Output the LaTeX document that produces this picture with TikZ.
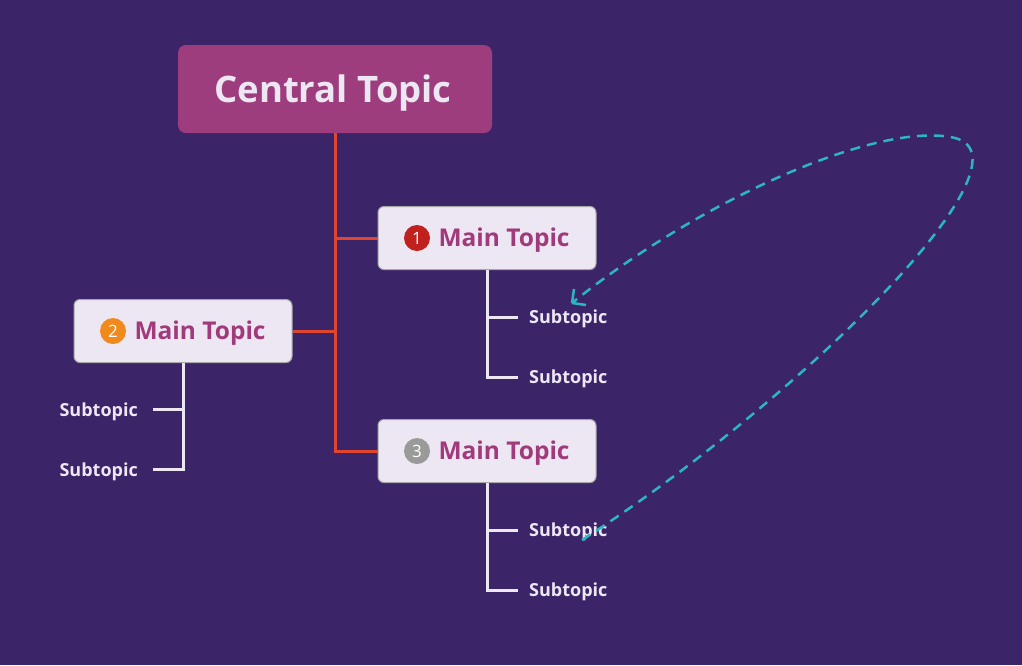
\documentclass[tikz,border=0pt]{standalone}
\usepackage{fontspec}
\setmainfont{Open Sans}
\usetikzlibrary{positioning}
\definecolor{bgpurple}{HTML}{3C2468}
\definecolor{central}{HTML}{9E3D7D}
\definecolor{mainfill}{HTML}{EDE6F3}
\definecolor{maintext}{HTML}{A03A7A}
\definecolor{trunk}{HTML}{E0452F}
\definecolor{subline}{HTML}{EDE6F3}
\definecolor{relcyan}{HTML}{2BB5C5}
\definecolor{badgeone}{HTML}{C0201E}
\definecolor{badgetwo}{HTML}{F08A1C}
\definecolor{badgethree}{HTML}{9A9A9A}
\tikzset{
  maintopic/.style={draw=gray!70, line width=1pt, fill=mainfill, rounded corners=6pt,
    minimum width=218pt, minimum height=63pt, text=maintext, font=\fontsize{24.5}{28}\selectfont\bfseries},
  badge/.style={circle, inner sep=0pt, minimum size=26pt, text=white, font=\fontsize{17}{17}\selectfont},
  subtopic/.style={text=subline, font=\fontsize{18}{20}\selectfont\bfseries, inner sep=0pt, anchor=west},
  branch/.style={trunk, line width=3pt},
  twig/.style={subline, line width=3pt}
}
\begin{document}
\begin{tikzpicture}[x=1pt, y=-1pt]
\fill[bgpurple] (0,0) rectangle (1022,665);
\useasboundingbox (0,0) rectangle (1022,665);
% Central topic
\node[fill=central, rounded corners=8pt, minimum width=314pt, minimum height=88pt] (central) at (335,89) {};
\node[text=mainfill, font=\fontsize{36.5}{40}\selectfont\bfseries] at (333,93) {Central Topic};
% Main topics
\node[maintopic] (one) at (487,238) {};
\node[maintopic] (two) at (183,331) {};
\node[maintopic] (three) at (487,451) {};
\node[text=maintext, font=\fontsize{24.5}{28}\selectfont\bfseries, anchor=west] at (435,240) {Main Topic};
\node[text=maintext, font=\fontsize{24.5}{28}\selectfont\bfseries, anchor=west] at (131,333) {Main Topic};
\node[text=maintext, font=\fontsize{24.5}{28}\selectfont\bfseries, anchor=west] at (435,453) {Main Topic};
\node[badge, fill=badgeone] (b1) at (417,238) {1};
\node[badge, fill=badgetwo] (b2) at (113,331) {2};
\node[badge, fill=badgethree] (b3) at (417,451) {3};
% Trunk lines
\coordinate (j1) at (335,238);
\coordinate (j2) at (335,331);
\coordinate (j3) at (335,451);
\draw[branch] (central.south) -- (j3) -- (three.west);
\draw[branch] (j1) -- (one.west);
\draw[branch] (j2) -- (two.east);
% Subtopics
\node[subtopic] (s1a) at (529,319) {Subtopic};
\node[subtopic] (s1b) at (529,379) {Subtopic};
\node[subtopic] (s3a) at (529,532) {Subtopic};
\node[subtopic] (s3b) at (529,592) {Subtopic};
\node[subtopic, anchor=east] (s2a) at (138,412) {Subtopic};
\node[subtopic, anchor=east] (s2b) at (138,472) {Subtopic};
\draw[twig] (one.south) |- (518,377);
\draw[twig] (487,317) -- (518,317);
\draw[twig] (three.south) |- (518,590);
\draw[twig] (487,530) -- (518,530);
\draw[twig] (two.south) |- (153,469);
\draw[twig] (183,409) -- (153,409);
% Dashed relation
\coordinate (rstart) at (582,540);
\coordinate (rend) at (572,303);
\draw[relcyan, line width=2.5pt, dash pattern=on 10pt off 7pt]
  (rstart) .. controls (800,400) and (1040,160) .. (955,138)
  .. controls (880,120) and (700,200) .. (rend);
\draw[relcyan, line width=2.5pt] (rend) -- ++(2,-14) (rend) -- ++(14,2);
\end{tikzpicture}
\end{document}
